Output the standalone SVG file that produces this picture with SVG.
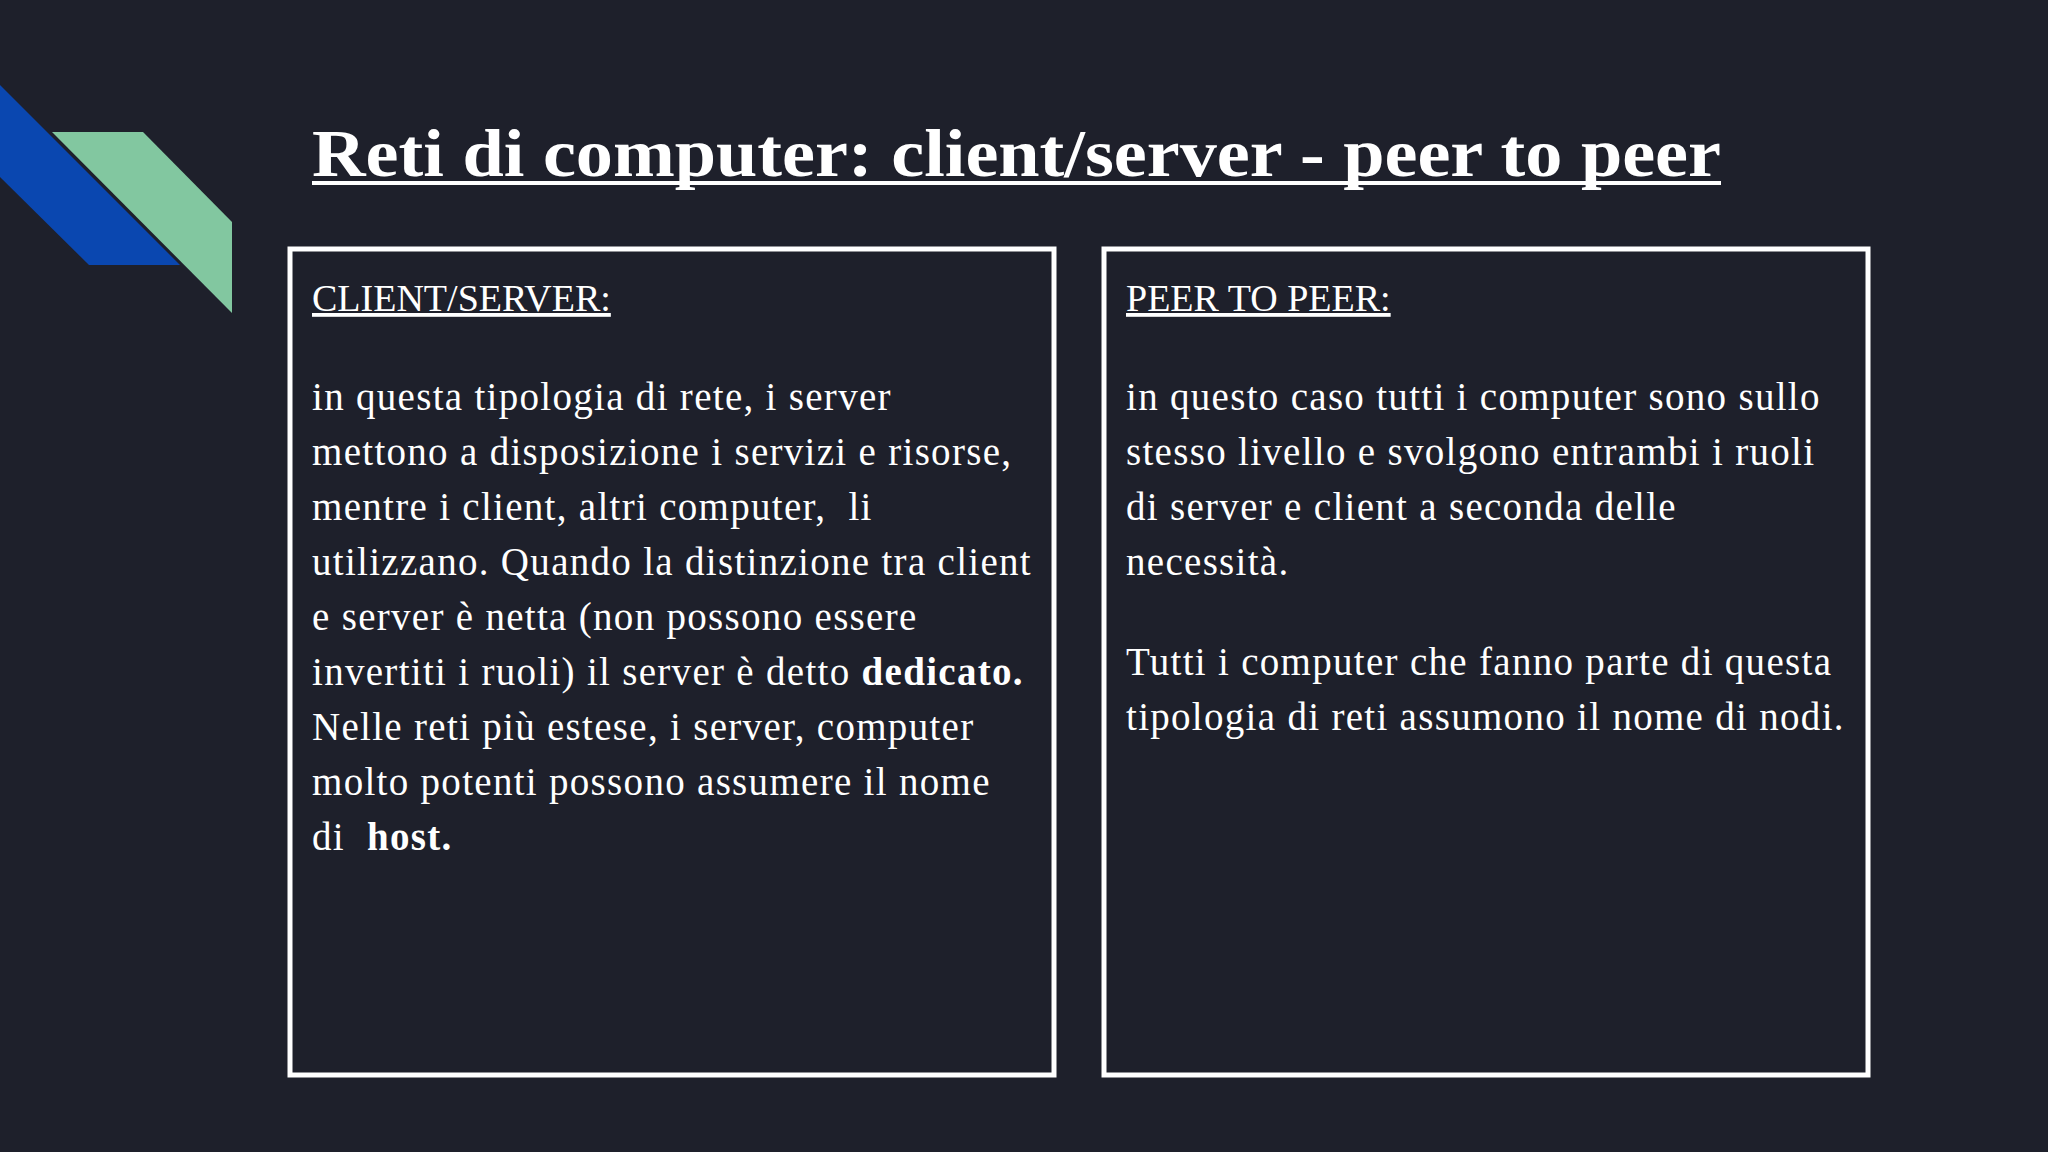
<svg xmlns="http://www.w3.org/2000/svg" width="2048" height="1152" viewBox="0 0 2048 1152">
<style>
.t{font-family:"Liberation Serif","DejaVu Serif",serif;fill:#fff}
.b{font-size:39px;letter-spacing:1.3px}
.h{font-size:38px}
.box{fill:none;stroke:#fff;stroke-width:5}
</style>
<rect width="2048" height="1152" fill="#1e202b"/>
<polygon points="0,85 180,265 89,265 0,177" fill="#0a47b0"/>
<polygon points="52,132 143,132 232,222 232,313" fill="#82c7a0"/>
<g id="title">
<text class="t" x="312" y="176" font-size="68" font-weight="bold" textLength="1409" lengthAdjust="spacingAndGlyphs">Reti di computer: client/server - peer to peer</text>
<rect x="312" y="181" width="1409" height="4" fill="#fff"/>
</g>
<g id="client-server">
<rect class="box" x="290" y="249" width="764" height="826"/>
<text class="t h" x="312" y="311" text-decoration="underline">CLIENT/SERVER:</text>
<text class="t b" x="312" y="410">in questa tipologia di rete, i server</text>
<text class="t b" x="312" y="465">mettono a disposizione i servizi e risorse,</text>
<text class="t b" x="312" y="520" xml:space="preserve">mentre i client, altri computer,  li</text>
<text class="t b" x="312" y="575">utilizzano. Quando la distinzione tra client</text>
<text class="t b" x="312" y="630">e server è netta (non possono essere</text>
<text class="t b" x="312" y="685">invertiti i ruoli) il server è detto <tspan font-weight="bold">dedicato.</tspan></text>
<text class="t b" x="312" y="740">Nelle reti più estese, i server, computer</text>
<text class="t b" x="312" y="795">molto potenti possono assumere il nome</text>
<text class="t b" x="312" y="850" xml:space="preserve">di  <tspan font-weight="bold">host.</tspan></text>
</g>
<g id="peer-to-peer">
<rect class="box" x="1104" y="249" width="764" height="826"/>
<text class="t h" x="1126" y="311" text-decoration="underline">PEER TO PEER:</text>
<text class="t b" x="1126" y="410">in questo caso tutti i computer sono sullo</text>
<text class="t b" x="1126" y="465">stesso livello e svolgono entrambi i ruoli</text>
<text class="t b" x="1126" y="520">di server e client a seconda delle</text>
<text class="t b" x="1126" y="575">necessità.</text>
<text class="t b" x="1126" y="675">Tutti i computer che fanno parte di questa</text>
<text class="t b" x="1126" y="730">tipologia di reti assumono il nome di nodi.</text>
</g>
<g id="connectors"/>
</svg>
